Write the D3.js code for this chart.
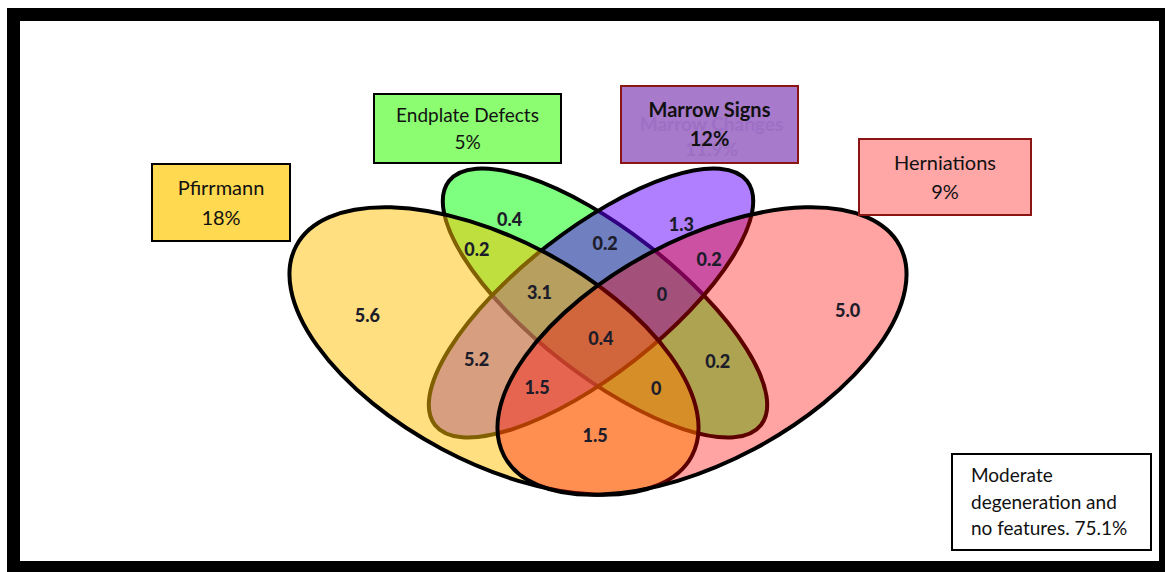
<!DOCTYPE html>
<html>
<head>
<meta charset="utf-8">
<script src="https://cdn.jsdelivr.net/npm/d3@7"></script>
<style>
  body { margin: 0; background: #fff; }
  svg { display: block; }
</style>
</head>
<body>
<script>
// Sets and their overall share
var setNames = ["Pfirrmann", "Endplate Defects", "Marrow Signs", "Herniations"];
var setKeys = ["Y", "G", "P", "K"];
var setPercents = ["18%", "5%", "12%", "9%"];

// Region values (percent), keyed by member sets
var regionSets = ["Y", "G", "P", "K", "YG", "GP", "PK", "YGP", "GPK", "YP", "GK", "YGPK", "YPK", "YGK", "YK"];
var regionValues = ["5.6", "0.4", "1.3", "5.0", "0.2", "0.2", "0.2", "3.1", "0", "5.2", "0.2", "0.4", "1.5", "0", "1.5"];

var remainderLines = ["Moderate", "degeneration and", "no features. 75.1%"];
var oldMarrowLabel = ["Marrow Changes", "11.9%"];

var width = 1165, height = 572;

var svg = d3.select("body").append("svg")
    .attr("width", width)
    .attr("height", height);

// layout units -> pixels (diagram is symmetric about u = 0)
var x = d3.scaleLinear().domain([-100, 100]).range([498, 698]);
var y = d3.scaleLinear().domain([-100, 100]).range([227, 427]);

// ellipse geometry in layout units
var ellipses = {
  Y: { cx: -104, cy: 24, rx: 224, ry: 111, rot: 28, color: "#FFC000", op: 0.5 },
  G: { cx: 7, cy: -24, rx: 198, ry: 72, rot: 38, color: "#00FF00", op: 0.5 },
  P: { cx: -7, cy: -24, rx: 198, ry: 72, rot: -38, color: "#6000FF", op: 0.5 },
  K: { cx: 104, cy: 24, rx: 224, ry: 111, rot: -28, color: "#FF0000", op: 0.36 }
};
var drawOrder = ["G", "P", "Y", "K"];
var px = function (v) { return x(v) - x(0); }; // length scale

// label nudges from the sampled centroid (layout units)
var nudge = {
  Y: [-25, 2], G: [-4, 14], P: [-1, 19], K: [44, -2], YG: [-13, -2], GP: [7, -4],
  PK: [3, 8], YGP: [-3, 0], GPK: [8, 2], YP: [-2, -13], GK: [0, -11],
  YGPK: [3, 2], YPK: [-3, -1], YGK: [0, 0], YK: [-3, -12]
};

// outer frame
svg.append("rect")
    .attr("x", 13.5).attr("y", 14.5)
    .attr("width", 1152).attr("height", 553)
    .attr("fill", "#fff")
    .attr("stroke", "#000")
    .attr("stroke-width", 13);

// ellipses
svg.append("g").selectAll("ellipse")
  .data(drawOrder)
  .enter()
  .append("ellipse")
    .attr("transform", function (k) {
      var e = ellipses[k];
      return "translate(" + x(e.cx) + "," + y(e.cy) + ") rotate(" + e.rot + ")";
    })
    .attr("rx", function (k) { return px(ellipses[k].rx); })
    .attr("ry", function (k) { return px(ellipses[k].ry); })
    .attr("fill", function (k) { return ellipses[k].color; })
    .attr("fill-opacity", function (k) { return ellipses[k].op; })
    .attr("stroke", "#000")
    .attr("stroke-width", 4);

// membership test
function inside(k, u, v) {
  var e = ellipses[k];
  var a = -e.rot * Math.PI / 180;
  var dx = u - e.cx, dy = v - e.cy;
  var lx = dx * Math.cos(a) - dy * Math.sin(a);
  var ly = dx * Math.sin(a) + dy * Math.cos(a);
  return (lx * lx) / (e.rx * e.rx) + (ly * ly) / (e.ry * e.ry) <= 1;
}

// centroid of each region by sampling
var sums = {};
regionSets.forEach(function (r) { sums[r] = { u: 0, v: 0, n: 0 }; });
d3.range(-320, 320, 3).forEach(function (u) {
  d3.range(-160, 280, 3).forEach(function (v) {
    var key = setKeys.filter(function (k) { return inside(k, u, v); }).join("");
    if (sums[key]) { sums[key].u += u; sums[key].v += v; sums[key].n += 1; }
  });
});

svg.append("g").selectAll("text")
  .data(regionSets)
  .enter()
  .append("text")
    .attr("x", function (r) { return x(sums[r].u / sums[r].n + nudge[r][0]); })
    .attr("y", function (r) { return y(sums[r].v / sums[r].n + nudge[r][1]); })
    .attr("dy", "0.35em")
    .attr("text-anchor", "middle")
    .attr("font-family", "Lato, sans-serif")
    .attr("font-weight", "900")
    .attr("font-size", 18)
    .attr("fill", "#1c1c2a")
    .text(function (r, i) { return regionValues[i]; });

// set label boxes
var boxes = [
  { x: 152, y: 164, w: 138, h: 77, fill: "#FFD94F", stroke: "#000", bold: false, t1: 195, t2: 225, fs: 20 },
  { x: 374, y: 94, w: 187, h: 69, fill: "#8CFC70", stroke: "#000", bold: false, t1: 122, t2: 149, fs: 19 },
  { x: 621, y: 86, w: 177, h: 77, fill: "#A77ACB", stroke: "#8B1515", bold: true, t1: 117, t2: 146, fs: 20 },
  { x: 859, y: 139, w: 172, h: 76, fill: "#FFA6A6", stroke: "#8B1515", bold: false, t1: 170, t2: 199, fs: 20 }
];

var lg = svg.append("g").attr("font-family", "Lato, sans-serif");

boxes.forEach(function (b, i) {
  var g = lg.append("g").attr("font-size", b.fs);
  g.append("rect")
      .attr("x", b.x).attr("y", b.y)
      .attr("width", b.w).attr("height", b.h)
      .attr("fill", b.fill)
      .attr("stroke", b.stroke)
      .attr("stroke-width", 2);
  // faded old label left under the marrow box text
  if (i === 2) {
    oldMarrowLabel.forEach(function (t, j) {
      g.append("text")
          .attr("x", b.x + b.w / 2 + 2).attr("y", 131 + j * 25)
          .attr("text-anchor", "middle")
          .attr("font-weight", "bold")
          .attr("font-size", 19)
          .attr("fill", "#9D70C5")
          .text(t);
    });
  }
  g.append("text")
      .attr("x", b.x + b.w / 2).attr("y", b.t1)
      .attr("text-anchor", "middle")
      .attr("font-weight", b.bold ? "bold" : "normal")
      .attr("fill", "#111")
      .text(setNames[i]);
  g.append("text")
      .attr("x", b.x + b.w / 2).attr("y", b.t2)
      .attr("text-anchor", "middle")
      .attr("font-weight", b.bold ? "bold" : "normal")
      .attr("fill", "#111")
      .text(setPercents[i]);
});

// remainder box
svg.append("rect")
    .attr("x", 952).attr("y", 454)
    .attr("width", 199).attr("height", 96)
    .attr("fill", "#fff")
    .attr("stroke", "#000")
    .attr("stroke-width", 2);

svg.append("g").selectAll("text")
  .data(remainderLines)
  .enter()
  .append("text")
    .attr("x", 971)
    .attr("y", function (d, i) { return 482 + i * 26.5; })
    .attr("font-family", "Lato, sans-serif")
    .attr("font-size", 19)
    .attr("fill", "#111")
    .text(function (d) { return d; });
</script>
</body>
</html>
